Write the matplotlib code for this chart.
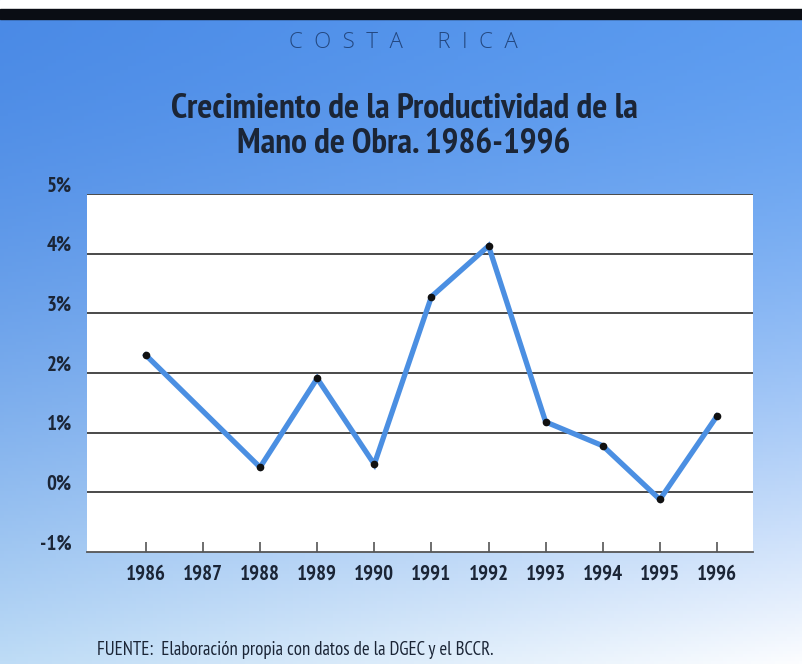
import numpy as np
import matplotlib
matplotlib.use("Agg")
import matplotlib.pyplot as plt
from matplotlib.patches import Rectangle
import matplotlib.transforms as mtransforms

years = [1986, 1988, 1989, 1990, 1991, 1992, 1993, 1994, 1995, 1996]
growth = [2.30, 0.42, 1.91, 0.47, 3.28, 4.13, 1.18, 0.78, -0.12, 1.28]
xtick_years = list(range(1986, 1997))
ytick_vals = [-1, 0, 1, 2, 3, 4, 5]
ytick_labels = ["-1%", "0%", "1%", "2%", "3%", "4%", "5%"]

COND = ['PT Sans Narrow', 'DejaVu Sans']
LIGHT = ['Open Sans', 'DejaVu Sans']
NAVY = '#1b2536'

W, H = 803, 664
fig = plt.figure(figsize=(W / 100, H / 100), dpi=100)

# background gradient
bg = fig.add_axes([0, 0, 1, 1], zorder=-10)
ny, nx = 200, 200
yy, xx = np.mgrid[0:1:ny * 1j, 0:1:nx * 1j]
TL = np.array([74, 138, 230]) / 255
TR = np.array([92, 156, 240]) / 255
BL = np.array([190, 220, 246]) / 255
BR = np.array([252, 253, 255]) / 255
v = yy ** 1.6
img = ((1 - v)[..., None] * ((1 - xx)[..., None] * TL + xx[..., None] * TR) +
       v[..., None] * ((1 - xx)[..., None] * BL + xx[..., None] * BR))
bg.imshow(np.clip(img, 0, 1), extent=[0, 1, 0, 1], aspect='auto', origin='upper')
bg.set_xlim(0, 1); bg.set_ylim(0, 1); bg.axis('off')
bg.add_patch(Rectangle((0, 1 - 18 / H), 1, 18 / H, color='white', zorder=2))
bg.add_patch(Rectangle((0, 1 - 19 / H), 1, 10 / H, color='#0a0d14', zorder=3))

fig.text(403 / W, 1 - 43 / H, "C  O  S  T  A      R  I  C  A", ha='center', va='center',
         fontsize=16, color='#23477f', family=LIGHT, fontweight='light')
fig.text(404 / W, 1 - 109 / H, "Crecimiento de la Productividad de la", ha='center', va='center',
         fontsize=25.5, color=NAVY, family=COND, fontweight='bold')
fig.text(404 / W, 1 - 144 / H, "Mano de Obra. 1986-1996", ha='center', va='center',
         fontsize=25.5, color=NAVY, family=COND, fontweight='bold')
fig.text(97 / W, 1 - 650 / H, "FUENTE:  Elaboración propia con datos de la DGEC y el BCCR.",
         ha='left', va='center', fontsize=13.5, color=NAVY, family=COND)

ax = fig.add_axes([87 / W, 112 / H, 666 / W, 358 / H])
ax.set_facecolor('white')
ax.set_xlim(1984.97, 1996.63)
ax.set_ylim(-1, 5)
for s in ['left', 'right', 'top']:
    ax.spines[s].set_visible(False)
ax.spines['bottom'].set_color('#555555')
ax.spines['bottom'].set_linewidth(1.3)
for yv in ytick_vals[1:]:
    ax.axhline(yv, color='#3a3a3a', lw=1.3, zorder=1)

ax.plot(years, growth, color='#4b8fe2', lw=3.8, zorder=3, solid_joinstyle='miter')
ax.plot(years, growth, 'o', color='#111111', ms=4.5, zorder=4)

ax.set_xticks(xtick_years)
ax.set_xticklabels([str(y) for y in xtick_years], fontsize=15, color=NAVY,
                   family=COND, fontweight='bold')
ax.tick_params(axis='x', direction='in', length=7, width=1.2, color='#555555', pad=9)
ax.set_yticks(ytick_vals)
ax.set_yticklabels(ytick_labels, fontsize=15, color=NAVY, family=COND, fontweight='bold')
ax.tick_params(axis='y', length=0, pad=11)
off = mtransforms.ScaledTranslation(0, 10 / 100, fig.dpi_scale_trans)
for lab in ax.get_yticklabels():
    lab.set_transform(lab.get_transform() + off)

fig.savefig("out.png", dpi=100)
